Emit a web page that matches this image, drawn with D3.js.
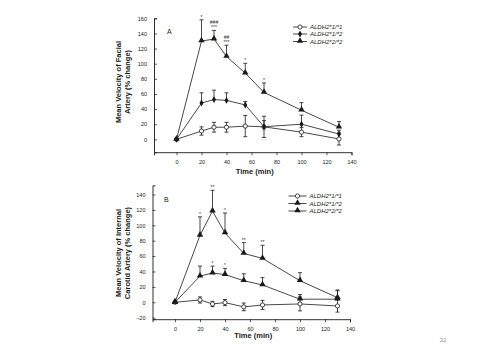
<!DOCTYPE html>
<html>
<head>
<meta charset="utf-8">
<script src="https://cdn.jsdelivr.net/npm/d3@7"></script>
<style>
body { margin:0; background:#fff; }
svg { display:block; }
text { font-family: "Liberation Sans", Arial, sans-serif; }
</style>
</head>
<body>
<div id="chart"></div>
<script>
// time points (min)
var times = [0, 20, 30, 40, 55, 70, 100, 130];
var xTicks = [0, 20, 40, 60, 80, 100, 120, 140];
var genotypes = ["ALDH2*1/*1", "ALDH2*1/*2", "ALDH2*2/*2"];

// panel A: facial artery
var facial11 = [0, 11, 16, 16, 17.5, 16.5, 9.5, 0.5];
var facial11Err = [0, 5.5, 6.5, 6.5, 14, 14, 6, 8];
var facial12 = [0, 48, 52.5, 51.5, 45.5, 16.7, 20, 7];
var facial12Err = [0, 13.5, 12.5, 10, 4.5, 8, 12, 5];
var facial22 = [0, 130, 132.5, 109.5, 87.5, 62, 38.5, 16];
var facial22Err = [0, 28, 11.5, 15, 13, 12.5, 10, 7.5];
var facialTicks = [0, 20, 40, 60, 80, 100, 120, 140, 160];
// significance marks: [time, text lines from top]
var facialSig = [[20, ["*"]], [30, ["###", "***"]], [40, ["##", "***"]], [55, ["*"]], [70, ["*"]]];

// panel B: internal carotid artery
var carotid11 = [0, 3, -2.2, -0.4, -6, -3.5, -2.2, -4.8];
var carotid11Err = [0, 4, 3.5, 4, 5, 6, 9, 8];
var carotid12 = [0, 34, 38, 36, 28, 22.5, 4, 4];
var carotid12Err = [0, 13, 9, 8, 9, 9.5, 6, 12];
var carotid22 = [0, 87, 118.5, 90, 63.5, 57, 28, 6];
var carotid22Err = [0, 24, 27, 26, 14, 17, 10.5, 9];
var carotidTicks = [-20, 0, 20, 40, 60, 80, 100, 120, 140];
var carotidSig22 = [[20, ["*"]], [30, ["**"]], [40, ["*"]], [55, ["**"]], [70, ["**"]]];
var carotidSig12 = [[30, ["*"]], [40, ["*"]]];

var W = 477, H = 358;
var ink = "#1a1a1a";

var svg = d3.select("#chart").append("svg")
    .attr("width", W)
    .attr("height", H);

drawPanel({
    label: "A",
    xDomain: [-18, 140], xRange: [154, 351.5],
    yDomain: [-17, 160], yRange: [152.2, 18.3],
    yTicks: facialTicks,
    titleLines: ["Mean Velocity of Facial", "Artery (% change)"],
    titleY: 82,
    labelPos: [167, 34],
    legendX: [293, 307], legendY: [27, 34, 41.5],
    xTitleY: 174,
    series: [
        {vals: facial11, err: facial11Err, both: true, marker: "open"},
        {vals: facial12, err: facial12Err, both: false, marker: "dot"},
        {vals: facial22, err: facial22Err, both: false, marker: "tri"}
    ],
    sig: [{idx: 2, marks: facialSig}]
});

drawPanel({
    label: "B",
    xDomain: [-18, 140], xRange: [152.5, 350],
    yDomain: [-22, 152], yRange: [319.2, 185.3],
    yTicks: carotidTicks,
    titleLines: ["Mean Velocity of Internal", "Carotid Artery (% change)"],
    titleY: 253,
    labelPos: [164, 202],
    legendX: [288.5, 306.5], legendY: [196, 203.5, 211],
    xTitleY: 338,
    series: [
        {vals: carotid11, err: carotid11Err, both: true, marker: "open"},
        {vals: carotid12, err: carotid12Err, both: false, marker: "tri"},
        {vals: carotid22, err: carotid22Err, both: false, marker: "tri"}
    ],
    sig: [{idx: 2, marks: carotidSig22}, {idx: 1, marks: carotidSig12}]
});

// page number
svg.append("text")
    .attr("x", 443).attr("y", 342)
    .attr("text-anchor", "middle")
    .style("font-size", "6px")
    .style("fill", "#8a93a8")
    .text("32");

function drawMarker(g, type, cx, cy) {
    if (type === "open") {
        g.append("circle").attr("cx", cx).attr("cy", cy).attr("r", 2.1)
            .attr("fill", "#fff").attr("stroke", ink).attr("stroke-width", 0.8);
    } else if (type === "dot") {
        g.append("path").attr("d", d3.symbol().type(d3.symbolDiamond).size(14)())
            .attr("transform", "translate(" + cx + "," + cy + ")")
            .attr("fill", ink);
    } else {
        g.append("path").attr("d", d3.symbol().type(d3.symbolTriangle).size(18)())
            .attr("transform", "translate(" + cx + "," + (cy - 0.5) + ")")
            .attr("fill", ink);
    }
}

function drawPanel(cfg) {
    var x = d3.scaleLinear().domain(cfg.xDomain).range(cfg.xRange);
    var y = d3.scaleLinear().domain(cfg.yDomain).range(cfg.yRange);
    var g = svg.append("g");

    // x axis
    var xAxis = g.append("g")
        .attr("transform", "translate(0," + cfg.yRange[0] + ")")
        .call(d3.axisBottom(x).tickValues(xTicks).tickSize(3).tickPadding(5));
    xAxis.select(".domain").attr("stroke", ink).attr("stroke-width", 0.9);
    xAxis.selectAll(".tick line").attr("stroke", ink).attr("stroke-width", 0.7);
    xAxis.selectAll("text").style("font-size", "5.5px").attr("fill", ink);

    // y axis, ticks pointing inward
    var yAxis = g.append("g")
        .attr("transform", "translate(" + cfg.xRange[0] + ",0)")
        .call(d3.axisLeft(y).tickValues(cfg.yTicks).tickSize(-3).tickPadding(7));
    yAxis.select(".domain").attr("stroke", ink).attr("stroke-width", 0.9);
    yAxis.selectAll(".tick line").attr("stroke", ink).attr("stroke-width", 0.7);
    yAxis.selectAll("text").style("font-size", "5.5px").attr("fill", ink);

    // axis titles
    g.append("text")
        .attr("x", (cfg.xRange[0] + cfg.xRange[1]) / 2 + 2)
        .attr("y", cfg.xTitleY)
        .attr("text-anchor", "middle")
        .style("font-size", "7.5px").style("font-weight", "bold")
        .attr("fill", ink)
        .text("Time (min)");

    cfg.titleLines.forEach(function(t, i) {
        g.append("text")
            .attr("transform", "translate(" + (121 + i * 8.5) + "," + cfg.titleY + ") rotate(-90)")
            .attr("text-anchor", "middle")
            .style("font-size", "7.5px").style("font-weight", "bold")
            .attr("fill", ink)
            .text(t);
    });

    g.append("text")
        .attr("x", cfg.labelPos[0]).attr("y", cfg.labelPos[1])
        .style("font-size", "7px")
        .attr("fill", ink)
        .text(cfg.label);

    var line = d3.line()
        .x(function(d, i) { return x(times[i]); })
        .y(function(d) { return y(d); });

    // lines
    cfg.series.forEach(function(s) {
        g.append("path")
            .datum(s.vals)
            .attr("d", line)
            .attr("fill", "none")
            .attr("stroke", ink)
            .attr("stroke-width", 0.8);
    });

    // error bars
    cfg.series.forEach(function(s) {
        s.vals.forEach(function(v, i) {
            var e = s.err[i];
            if (!e) return;
            var cx = x(times[i]);
            var top = y(v + e);
            var bot = s.both ? y(v - e) : y(v);
            g.append("line").attr("x1", cx).attr("x2", cx)
                .attr("y1", top).attr("y2", bot)
                .attr("stroke", ink).attr("stroke-width", 0.8);
            g.append("line").attr("x1", cx - 2).attr("x2", cx + 2)
                .attr("y1", top).attr("y2", top)
                .attr("stroke", ink).attr("stroke-width", 0.8);
            if (s.both) {
                g.append("line").attr("x1", cx - 2).attr("x2", cx + 2)
                    .attr("y1", bot).attr("y2", bot)
                    .attr("stroke", ink).attr("stroke-width", 0.8);
            }
        });
    });

    // markers
    cfg.series.forEach(function(s) {
        s.vals.forEach(function(v, i) {
            drawMarker(g, s.marker, x(times[i]), y(v));
        });
    });

    // significance marks, stacked above the error bar cap
    cfg.sig.forEach(function(sg) {
        var s = cfg.series[sg.idx];
        sg.marks.forEach(function(m) {
            var i = times.indexOf(m[0]);
            var top = y(s.vals[i] + s.err[i]);
            var n = m[1].length;
            m[1].forEach(function(t, k) {
                g.append("text")
                    .attr("x", x(m[0]))
                    .attr("y", top - 1 + (k - n + 1) * 5)
                    .attr("text-anchor", "middle")
                    .style("font-size", "5px")
                    .attr("fill", "#333")
                    .text(t);
            });
        });
    });

    // legend
    cfg.series.forEach(function(s, i) {
        var ly = cfg.legendY[i];
        g.append("line")
            .attr("x1", cfg.legendX[0]).attr("x2", cfg.legendX[1])
            .attr("y1", ly).attr("y2", ly)
            .attr("stroke", ink).attr("stroke-width", 0.8);
        drawMarker(g, s.marker, (cfg.legendX[0] + cfg.legendX[1]) / 2, ly);
        g.append("text")
            .attr("x", cfg.legendX[1] + 3).attr("y", ly + 2)
            .style("font-size", "6px").style("font-style", "italic")
            .attr("fill", ink)
            .text(genotypes[i]);
    });
}
</script>
</body>
</html>
